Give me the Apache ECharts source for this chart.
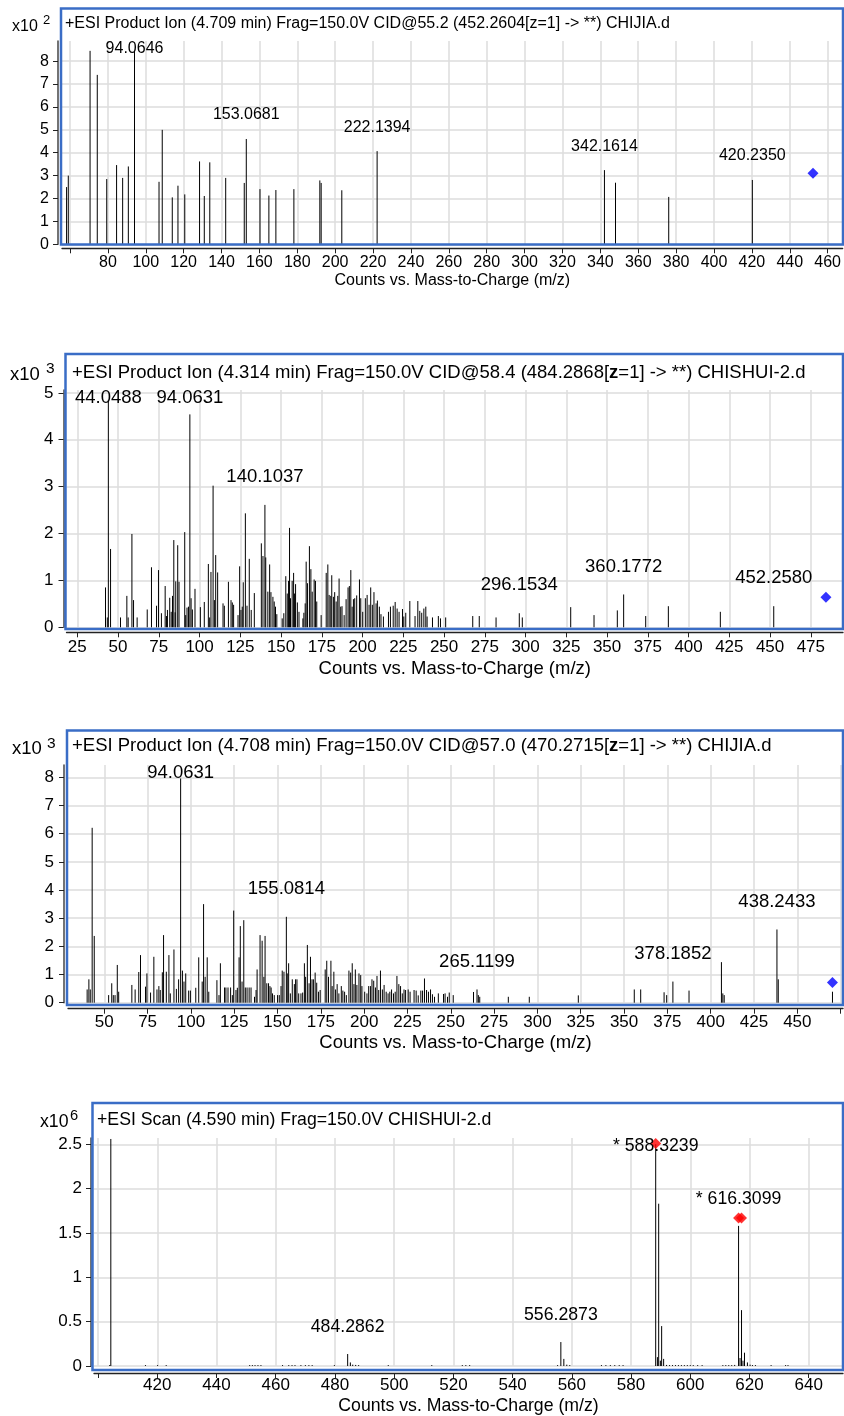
<!DOCTYPE html>
<html>
<head>
<meta charset="utf-8">
<script src="https://cdn.jsdelivr.net/npm/echarts@6/dist/echarts.min.js"></script>
<style>
  html, body { margin: 0; padding: 0; background: #fff; }
  #chart { width: 844px; height: 1416px; }
</style>
</head>
<body>
<div id="chart"></div>
<script>
// ---- spectrum 1 (x10^2) ----
var p1Peaks = [
  [58.2, 2.5], [59.1, 3.0], [70.6, 8.45], [74.4, 7.4], [79.4, 2.85], [84.6, 3.46], [87.8, 2.9],
  [90.8, 3.4], [94.06, 8.45], [107.0, 2.73], [108.7, 5.0], [114.0, 2.05], [117.0, 2.56], [120.6, 2.18],
  [128.4, 3.62], [130.9, 2.11], [133.8, 3.58], [142.2, 2.9], [152.0, 2.68], [153.07, 4.6], [160.3, 2.41],
  [165.0, 2.13], [168.7, 2.37], [178.2, 2.41], [191.9, 2.79], [192.6, 2.68], [203.5, 2.36], [222.14, 4.07],
  [342.16, 3.24], [348.0, 2.69], [376.1, 2.07], [420.24, 2.81]
];
var p1Labels = ['94.0646', '153.0681', '222.1394', '342.1614', '420.2350'];
var p1Precursor = [[452.26, 3.1]];
var p1XTicks = [60, 80, 100, 120, 140, 160, 180, 200, 220, 240, 260, 280, 300, 320, 340, 360, 380, 400, 420, 440, 460];
var p1XLabels = [80, 100, 120, 140, 160, 180, 200, 220, 240, 260, 280, 300, 320, 340, 360, 380, 400, 420, 440, 460];
var p1YTicks = [0, 1, 2, 3, 4, 5, 6, 7, 8];

// ---- spectrum 2 (x10^3) ----
var p2Peaks = [
  [42.3, 0.85], [43.4, 0.21], [44.05, 4.85], [45.4, 1.67], [51.5, 0.21], [55.4, 0.67], [56.2, 0.21],
  [58.5, 1.99], [59.5, 0.58], [61.7, 0.21], [67.9, 0.38], [70.5, 1.28], [73.6, 0.46], [74.8, 1.22],
  [76.6, 0.30], [78.9, 0.88], [79.7, 0.24], [80.3, 0.37], [81.7, 0.63], [82.6, 0.33], [83.4, 0.67],
  [84.2, 1.86], [85.0, 0.32], [85.4, 0.98], [86.6, 1.75], [87.4, 0.97], [90.9, 2.03], [91.5, 0.26],
  [92.3, 0.42], [93.2, 0.44], [94.06, 4.54], [94.8, 0.62], [95.6, 0.38], [97.2, 0.82], [100.5, 0.43],
  [102.9, 0.54], [105.4, 1.35], [106.2, 0.21], [107.0, 1.18], [108.3, 3.02], [109.1, 0.58], [109.9, 1.54],
  [111.1, 1.17], [114.4, 0.51], [115.2, 0.46], [117.7, 0.97], [119.3, 0.58], [120.1, 0.53], [120.9, 0.48],
  [123.6, 0.26], [124.6, 1.30], [125.4, 0.37], [126.2, 0.44], [126.8, 0.96], [128.1, 2.43], [129.1, 0.46],
  [130.5, 1.46], [131.7, 0.37], [133.6, 0.73], [137.9, 1.79], [138.9, 1.52], [140.1, 2.61], [140.6, 1.49],
  [141.9, 0.76], [143.0, 1.34], [143.8, 0.75], [145.0, 0.65], [145.8, 0.55], [146.6, 0.44], [147.4, 0.28],
  [150.7, 0.19], [151.7, 0.30], [152.9, 1.09], [153.8, 0.72], [154.6, 0.99], [155.2, 2.12], [155.8, 0.62],
  [156.8, 0.99], [157.7, 1.16], [158.3, 0.72], [158.9, 0.92], [160.0, 0.53], [161.0, 0.33], [163.4, 0.19],
  [164.0, 0.31], [164.8, 0.51], [165.4, 1.40], [166.2, 0.94], [167.4, 1.73], [168.3, 1.24], [169.1, 0.76],
  [170.3, 1.02], [171.1, 0.99], [171.9, 0.55], [174.6, 0.26], [177.7, 1.16], [178.7, 1.34], [179.5, 0.69],
  [180.5, 0.67], [181.1, 1.11], [182.1, 0.65], [182.9, 0.75], [183.8, 0.55], [184.8, 0.67], [185.6, 1.04],
  [186.6, 0.44], [187.4, 0.45], [188.7, 0.26], [189.9, 0.60], [191.1, 0.85], [191.9, 0.88], [192.8, 1.22],
  [193.6, 0.44], [194.4, 0.60], [195.2, 0.62], [196.4, 0.68], [198.1, 1.02], [198.9, 0.62], [200.1, 0.33],
  [201.7, 0.62], [202.8, 0.69], [204.0, 0.48], [205.0, 0.85], [206.0, 0.48], [207.0, 0.75], [208.3, 0.51],
  [209.1, 0.57], [210.3, 0.44], [211.3, 0.28], [212.8, 0.23], [215.9, 0.33], [217.1, 0.44], [218.8, 0.46],
  [220.0, 0.54], [221.2, 0.40], [222.4, 0.33], [224.5, 0.39], [225.3, 0.23], [226.5, 0.31], [229.0, 0.56],
  [232.2, 0.24], [233.9, 0.56], [235.1, 0.35], [236.3, 0.31], [237.6, 0.40], [238.8, 0.44], [239.6, 0.23],
  [242.9, 0.21], [246.5, 0.24], [247.8, 0.19], [251.0, 0.21], [267.6, 0.24], [271.6, 0.24], [281.9, 0.21],
  [296.15, 0.30], [298.0, 0.21], [327.7, 0.43], [342.0, 0.26], [356.3, 0.36], [360.18, 0.70], [373.7, 0.24],
  [387.6, 0.45], [419.5, 0.33], [452.26, 0.45]
];
var p2Labels = ['44.0488', '94.0631', '140.1037', '296.1534', '360.1772', '452.2580'];
var p2Precursor = [[484.29, 0.64]];
var p2XTicks = [25, 50, 75, 100, 125, 150, 175, 200, 225, 250, 275, 300, 325, 350, 375, 400, 425, 450, 475];
var p2XLabels = p2XTicks;
var p2YTicks = [0, 1, 2, 3, 4, 5];

// ---- spectrum 3 (x10^3) ----
var p3Peaks = [
  [40.1, 0.47], [41.1, 0.83], [41.9, 0.47], [43.0, 6.21], [44.2, 2.37], [52.5, 0.27], [54.3, 0.69],
  [55.2, 0.27], [56.2, 0.27], [57.5, 1.34], [58.3, 0.39], [65.9, 0.63], [67.8, 0.47], [69.9, 1.09],
  [70.9, 1.69], [73.8, 0.57], [74.6, 1.04], [76.7, 0.36], [78.6, 1.63], [80.4, 0.47], [81.5, 0.59],
  [82.3, 0.45], [83.5, 1.08], [84.2, 2.40], [85.8, 1.10], [87.3, 1.69], [88.1, 0.33], [90.2, 1.89],
  [91.6, 0.49], [92.9, 0.83], [94.06, 7.96], [95.1, 1.14], [96.0, 0.75], [97.0, 1.04], [98.7, 0.43],
  [99.7, 0.43], [102.8, 0.53], [104.5, 1.61], [106.5, 0.75], [107.3, 3.50], [108.2, 0.92], [109.4, 1.61],
  [110.3, 0.39], [115.0, 0.80], [116.2, 0.27], [117.0, 1.40], [119.4, 0.54], [120.2, 0.54], [121.4, 0.54],
  [122.9, 0.54], [123.9, 0.27], [124.7, 3.27], [126.0, 0.45], [126.8, 0.53], [127.8, 1.61], [128.5, 2.72],
  [129.5, 0.75], [130.5, 2.93], [131.4, 0.54], [132.4, 0.54], [133.6, 0.54], [134.7, 0.54], [136.7, 0.21],
  [137.6, 0.45], [138.2, 1.18], [139.9, 2.40], [141.1, 2.20], [142.1, 0.92], [142.8, 2.37], [143.8, 0.69],
  [144.8, 0.69], [145.6, 0.59], [146.3, 0.54], [147.1, 0.33], [148.1, 0.27], [150.0, 0.27], [151.0, 0.27],
  [152.0, 0.59], [152.7, 1.14], [153.7, 1.10], [155.08, 3.05], [155.6, 1.04], [156.4, 1.40], [157.4, 0.33],
  [158.5, 0.83], [159.7, 0.66], [160.4, 0.83], [161.2, 0.83], [162.2, 0.33], [163.5, 0.33], [164.5, 0.36],
  [165.5, 1.40], [166.2, 0.92], [167.2, 2.05], [168.2, 0.69], [169.0, 1.63], [169.9, 0.83], [170.7, 0.83],
  [171.7, 1.07], [172.6, 0.71], [173.6, 0.39], [174.6, 0.45], [177.5, 1.18], [178.4, 1.49], [179.4, 0.92],
  [180.8, 1.49], [181.5, 0.59], [182.5, 1.10], [183.5, 0.47], [184.4, 0.66], [185.4, 0.33], [186.8, 0.59],
  [187.7, 0.43], [188.7, 0.39], [189.7, 0.27], [191.2, 1.14], [192.2, 1.07], [193.1, 1.40], [194.1, 0.66],
  [194.9, 1.18], [195.8, 0.63], [197.0, 1.04], [198.0, 0.98], [198.7, 0.59], [200.3, 0.39], [201.6, 0.33],
  [202.6, 0.59], [203.6, 0.59], [204.5, 0.83], [205.5, 0.78], [206.5, 0.54], [207.4, 0.95], [208.4, 0.45],
  [209.4, 1.14], [210.5, 0.47], [211.5, 0.63], [212.7, 0.39], [213.8, 0.33], [214.8, 0.39], [215.8, 0.47],
  [216.9, 0.33], [217.9, 0.39], [218.9, 0.95], [220.0, 0.66], [221.0, 0.59], [222.0, 0.33], [223.0, 0.47],
  [223.9, 0.45], [225.4, 0.47], [226.5, 0.39], [228.8, 0.45], [230.0, 0.43], [231.2, 0.26], [232.7, 0.43],
  [233.7, 0.43], [234.8, 0.86], [236.0, 0.45], [237.1, 0.39], [238.3, 0.47], [239.4, 0.30], [240.6, 0.21],
  [242.8, 0.33], [245.8, 0.31], [246.7, 0.33], [248.1, 0.21], [249.1, 0.36], [251.4, 0.27], [263.1, 0.38],
  [265.12, 0.47], [265.9, 0.27], [266.7, 0.21], [283.2, 0.21], [295.3, 0.21], [323.6, 0.26], [355.9, 0.47],
  [359.6, 0.47], [373.1, 0.37], [374.6, 0.27], [378.19, 0.75], [387.5, 0.43], [406.2, 1.44], [407.0, 0.33],
  [407.8, 0.27], [438.24, 2.60], [439.0, 0.83], [470.3, 0.39]
];
var p3Labels = ['94.0631', '155.0814', '265.1199', '378.1852', '438.2433'];
var p3Precursor = [[470.27, 0.72]];
var p3XTicks = [50, 75, 100, 125, 150, 175, 200, 225, 250, 275, 300, 325, 350, 375, 400, 425, 450, 475];
var p3XLabels = [50, 75, 100, 125, 150, 175, 200, 225, 250, 275, 300, 325, 350, 375, 400, 425, 450];
var p3YTicks = [0, 1, 2, 3, 4, 5, 6, 7, 8];

// ---- spectrum 4 (x10^6) ----
var p4Peaks = [
  [403.9, 0.01], [404.3, 2.56], [416.0, 0.01], [420.1, 0.01], [423.0, 0.01], [451.2, 0.01], [452.1, 0.01],
  [453.0, 0.01], [454.0, 0.01], [455.0, 0.01], [462.3, 0.01], [464.4, 0.01], [465.5, 0.01], [466.5, 0.01],
  [468.5, 0.01], [470.0, 0.01], [471.2, 0.01], [472.3, 0.01], [479.8, 0.01], [484.29, 0.135], [485.2, 0.04],
  [486.0, 0.015], [487.0, 0.012], [488.0, 0.01], [498.0, 0.01], [512.7, 0.01], [523.0, 0.01], [524.2, 0.01],
  [525.5, 0.01], [555.2, 0.01], [556.29, 0.27], [557.3, 0.08], [558.3, 0.015], [559.3, 0.01], [570.0, 0.01],
  [571.5, 0.01], [573.0, 0.01], [574.5, 0.01], [576.0, 0.01], [577.3, 0.01], [588.32, 2.50], [588.9, 0.10],
  [589.33, 1.83], [589.9, 0.06], [590.33, 0.45], [591.0, 0.08], [592.0, 0.012], [593.0, 0.01], [594.0, 0.01],
  [595.0, 0.01], [596.0, 0.01], [597.0, 0.01], [598.0, 0.01], [599.0, 0.01], [600.0, 0.01], [601.0, 0.01],
  [602.5, 0.01], [604.0, 0.01], [611.0, 0.01], [612.0, 0.01], [613.0, 0.01], [614.0, 0.01], [615.0, 0.012],
  [616.31, 1.58], [616.8, 0.09], [617.31, 0.63], [617.8, 0.06], [618.31, 0.15], [619.3, 0.04], [620.2, 0.015],
  [621.0, 0.01], [622.0, 0.01], [627.3, 0.01], [632.2, 0.01], [633.0, 0.01]
];
var p4Labels = ['484.2862', '556.2873', '* 588.3239', '* 616.3099'];
var p4Precursor = [[588.32, 2.51], [616.31, 1.67], [617.31, 1.67]];
var p4XTicks = [400, 420, 440, 460, 480, 500, 520, 540, 560, 580, 600, 620, 640];
var p4XLabels = [420, 440, 460, 480, 500, 520, 540, 560, 580, 600, 620, 640];
var p4YTicks = [0, 0.5, 1, 1.5, 2, 2.5];

var FONT = '"Liberation Sans", Arial, sans-serif';
var BLUE = '#3a6dc6';
var GRID = '#dcdcdc';

// layout of the four panels (pixels)
var panels = [
  {
    peaks: p1Peaks, labels: p1Labels, prec: p1Precursor, precColor: '#0000ff',
    xTicks: p1XTicks, xLabels: p1XLabels, yTicks: p1YTicks,
    title: '+ESI Product Ion (4.709 min) Frag=150.0V CID@55.2 (452.2604[z=1] -> **) CHIJIA.d',
    exp: '2', expPos: [12, 27, 43, 20],
    frame: [61, 8.5, 782, 236], titlePos: [65, 24],
    left: 62, top: 41, width: 781, height: 203.3,
    xMin: 55.78, xMax: 467.92, yMax: 8.88,
    fs: 16, tickFs: 16, gap: 24, xOff: 4, yOff: 4, xMargin: 6, yMargin: 9, nameGap: 24
  },
  {
    peaks: p2Peaks, labels: p2Labels, prec: p2Precursor, precColor: '#0000ff',
    xTicks: p2XTicks, xLabels: p2XLabels, yTicks: p2YTicks,
    title: '+ESI Product Ion (4.314 min) Frag=150.0V CID@58.4 (484.2868[{b|z}=1] -> **) CHISHUI-2.d',
    exp: '3', expPos: [10, 375, 46, 369],
    frame: [65.5, 354, 777.5, 275], titlePos: [72, 373],
    left: 66.5, top: 390, width: 776.5, height: 237.3,
    xMin: 18.37, xMax: 494.75, yMax: 5.06,
    fs: 18.5, tickFs: 17, gap: 28, xOff: 5, yOff: 3, xMargin: 7, yMargin: 10, nameGap: 27
  },
  {
    peaks: p3Peaks, labels: p3Labels, prec: p3Precursor, precColor: '#0000ff',
    xTicks: p3XTicks, xLabels: p3XLabels, yTicks: p3YTicks,
    title: '+ESI Product Ion (4.708 min) Frag=150.0V CID@57.0 (470.2715[{b|z}=1] -> **) CHIJIA.d',
    exp: '3', expPos: [12, 749, 47, 744],
    frame: [67, 730.5, 776, 274.5], titlePos: [72, 746],
    left: 68, top: 765, width: 775, height: 237.7,
    xMin: 29.05, xMax: 476.37, yMax: 8.44,
    fs: 18.5, tickFs: 17, gap: 28, xOff: 6, yOff: 4, xMargin: 5, yMargin: 10, nameGap: 25
  },
  {
    peaks: p4Peaks, labels: p4Labels, prec: p4Precursor, precColor: '#ff0000',
    xTicks: p4XTicks, xLabels: p4XLabels, yTicks: p4YTicks,
    title: '+ESI Scan (4.590 min) Frag=150.0V CHISHUI-2.d',
    exp: '6', expPos: [40, 1122, 70, 1116],
    frame: [92.5, 1103, 750.5, 267], titlePos: [97, 1120],
    left: 94, top: 1138, width: 749, height: 229,
    xMin: 398.62, xMax: 651.58, yMax: 2.571,
    fs: 17.7, tickFs: 17, gap: 27, xOff: 7, yOff: 3, xMargin: 4, yMargin: 9, nameGap: 24
  }
];

// intensity of the tallest peak close to a labelled m/z
function peakAt(peaks, mz) {
  var best = 0;
  for (var i = 0; i < peaks.length; i++) {
    if (Math.abs(peaks[i][0] - mz) < 0.6 && peaks[i][1] > best) best = peaks[i][1];
  }
  return best;
}

var grids = [], xAxes = [], yAxes = [], series = [], graphics = [];

panels.forEach(function (p, i) {
  grids.push({ left: p.left, top: p.top, width: p.width, height: p.height, containLabel: false });

  xAxes.push({
    gridIndex: i, type: 'value', min: p.xMin, max: p.xMax, offset: p.xOff,
    name: 'Counts vs. Mass-to-Charge (m/z)', nameLocation: 'middle', nameGap: p.nameGap,
    nameTextStyle: { fontFamily: FONT, fontSize: p.fs, color: '#000' },
    axisLine: { show: true, onZero: false, lineStyle: { color: '#222', width: 1.3 } },
    axisTick: { show: true, customValues: p.xTicks, length: 5, lineStyle: { color: '#222' } },
    axisLabel: { customValues: p.xLabels, fontFamily: FONT, fontSize: p.tickFs, color: '#000', margin: p.xMargin },
    splitLine: { show: true, lineStyle: { color: GRID, width: 1.5 } }
  });

  yAxes.push({
    gridIndex: i, type: 'value', min: 0, max: p.yMax, offset: p.yOff,
    axisLine: { show: true, onZero: false, lineStyle: { color: '#444', width: 1.5 } },
    axisTick: { show: true, customValues: p.yTicks, length: 5, lineStyle: { color: '#222' } },
    axisLabel: { customValues: p.yTicks, fontFamily: FONT, fontSize: p.tickFs, color: '#000', margin: p.yMargin },
    splitLine: { show: true, lineStyle: { color: GRID, width: 1.5 } }
  });

  // sticks
  series.push({
    type: 'custom', xAxisIndex: i, yAxisIndex: i, encode: { x: 0, y: 1 },
    data: p.peaks, z: 3,
    renderItem: function (params, api) {
      var topPt = api.coord([api.value(0), api.value(1)]);
      var basePt = api.coord([api.value(0), 0]);
      return {
        type: 'line',
        shape: { x1: topPt[0], y1: basePt[1], x2: topPt[0], y2: topPt[1] },
        style: { stroke: '#000', lineWidth: 1 }
      };
    }
  });

  // precursor diamonds
  series.push({
    type: 'scatter', xAxisIndex: i, yAxisIndex: i, data: p.prec, z: 5,
    symbol: 'diamond', symbolSize: 11, itemStyle: { color: p.precColor }
  });

  // peak labels
  var labelData = p.labels.map(function (t) {
    var mz = parseFloat(t.replace('* ', ''));
    return [mz, peakAt(p.peaks, mz)];
  });
  series.push({
    type: 'custom', xAxisIndex: i, yAxisIndex: i, encode: { x: 0, y: 1 },
    data: labelData, clip: false, z: 6,
    renderItem: function (params, api) {
      var pt = api.coord([api.value(0), api.value(1)]);
      var y = Math.max(pt[1] - p.gap, p.top + 8);
      return {
        type: 'text',
        style: {
          x: pt[0], y: y, text: p.labels[params.dataIndex],
          align: 'center', verticalAlign: 'middle',
          fontFamily: FONT, fontSize: p.fs, fill: '#000'
        }
      };
    }
  });

  // frame, title and the exponent of the y scale
  graphics.push({
    type: 'rect', z: 4,
    shape: { x: p.frame[0], y: p.frame[1], width: p.frame[2], height: p.frame[3] },
    style: { fill: 'none', stroke: BLUE, lineWidth: 2.5 }
  });
  graphics.push({
    type: 'text', z: 10, x: p.titlePos[0], y: p.titlePos[1],
    style: {
      text: p.title, fontFamily: FONT, fontSize: p.fs, fill: '#000', verticalAlign: 'middle',
      rich: { b: { fontFamily: FONT, fontSize: p.fs, fontWeight: 'bold', fill: '#000' } }
    }
  });
  graphics.push({
    type: 'text', z: 10, x: p.expPos[0], y: p.expPos[1],
    style: { text: 'x10', fontFamily: FONT, fontSize: p.fs, fill: '#000', verticalAlign: 'middle' }
  });
  graphics.push({
    type: 'text', z: 10, x: p.expPos[2], y: p.expPos[3],
    style: { text: p.exp, fontFamily: FONT, fontSize: p.fs - 3, fill: '#000', verticalAlign: 'middle' }
  });
});

var myChart = echarts.init(document.getElementById('chart'), null, { renderer: 'canvas' });
myChart.setOption({
  backgroundColor: '#fff',
  animation: false,
  grid: grids,
  xAxis: xAxes,
  yAxis: yAxes,
  series: series,
  graphic: graphics
});
</script>
</body>
</html>
